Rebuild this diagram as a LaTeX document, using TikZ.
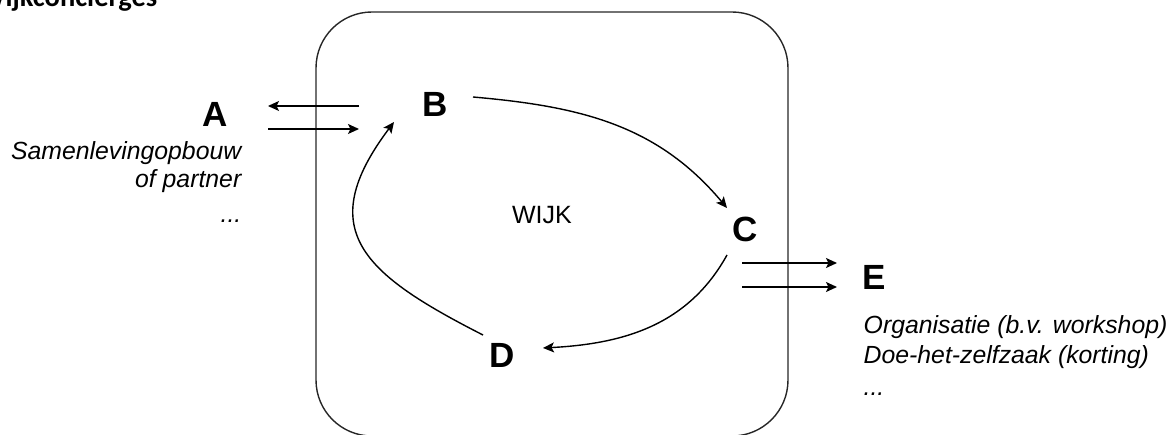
\documentclass[tikz,border=0pt]{standalone}
\usepackage{fontspec}
\setmainfont{Liberation Sans}
\newfontfamily\headfont{Carlito}
\usetikzlibrary{arrows.meta}

\begin{document}
\begin{tikzpicture}[x=1pt, y=1pt, line width=1.4pt,
  letter/.style={inner sep=0pt, font=\fontsize{35}{42}\selectfont\bfseries},
  note/.style={inner sep=0pt, font=\fontsize{24.8}{28}\selectfont\itshape},
  flow/.style={-{Stealth[length=11pt,width=10pt,inset=2.5pt]}}]
  \useasboundingbox (0,0) rectangle (1167,434);
  \clip (0,0) rectangle (1167,434);
  % title, cut off at the page edge
  \node[inner sep=0pt, anchor=base east, font=\headfont\fontsize{28.5}{33}\selectfont\bfseries] at (158,427) (title){Wijkconcierges};
  % the neighbourhood
  \draw[rounded corners=56pt, black!85] (316,-2) rectangle (788,422);
  \node[inner sep=0pt, font=\fontsize{25}{30}\selectfont] at (542,218.5) (wijk){WIJK};
  \node[letter] at (215.5,320) (A){A};
  \node[letter] at (435,329.5) (B){B};
  \node[letter] at (745.5,204.5) (C){C};
  \node[letter] at (502.5,78.5) (D){D};
  \node[letter] at (874,156.5) (E){E};
  \node[note, anchor=base east] at (242,274) (a1){Samenlevingopbouw};
  \node[note, anchor=base east] at (242,246) (a2){of partner};
  \node[note, anchor=base east] at (242,211) (a3){...};
  \node[note, anchor=base west] at (863,101) (e1){Organisatie (b.v. workshop)};
  \node[note, anchor=base west] at (863,71) (e2){Doe-het-zelfzaak (korting)};
  \node[note, anchor=base west] at (863,39) (e3){...};
  % ends of the connectors
  \coordinate (ab1) at (359,328);
  \coordinate (ab2) at (268,328);
  \coordinate (ab3) at (268,305);
  \coordinate (ab4) at (359,305);
  \coordinate (bs) at (473,337);
  \coordinate (ce) at (727,226);
  \coordinate (cs) at (727,179);
  \coordinate (de) at (543,86);
  \coordinate (ds) at (483,99);
  \coordinate (be) at (394,312);
  \coordinate (ce1) at (742,171);
  \coordinate (ce2) at (837,171);
  \coordinate (ce3) at (742,147);
  \coordinate (ce4) at (837,147);
  \draw[flow] (ab1) -- (ab2);
  \draw[flow] (ab3) -- (ab4);
  \draw[flow] (bs) to[out=-5, in=130] (ce);
  \draw[flow] (cs) to[out=-119, in=3] (de);
  \draw[flow] (ds) to[out=153, in=-127, looseness=1.5] (be);
  \draw[flow] (ce1) -- (ce2);
  \draw[flow] (ce3) -- (ce4);
\end{tikzpicture}
\end{document}
